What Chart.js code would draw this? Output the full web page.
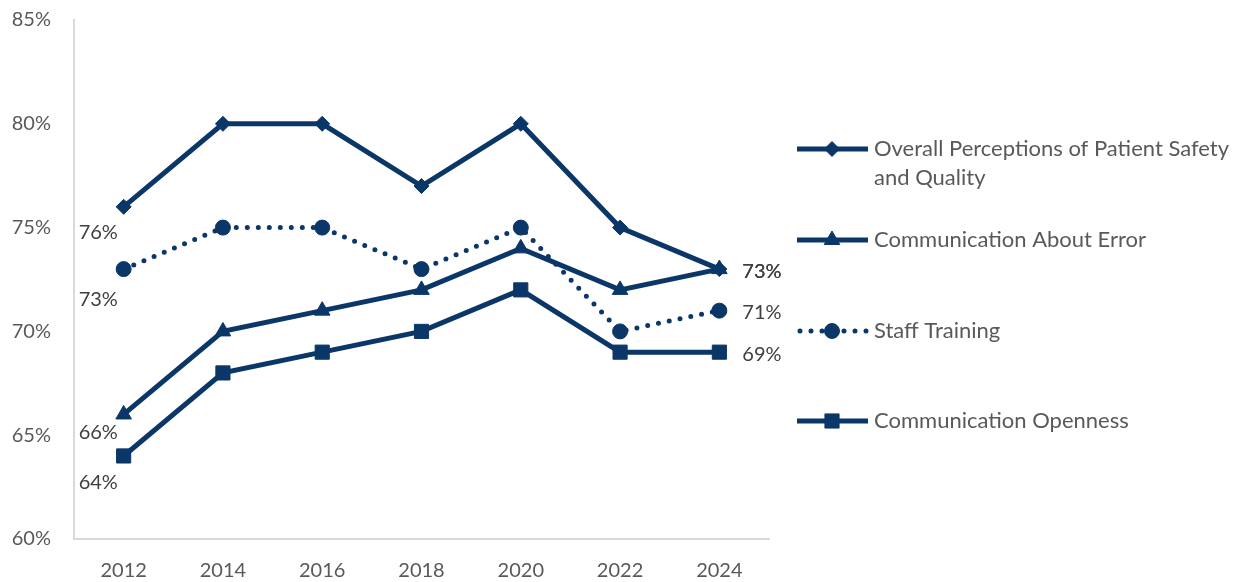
<!DOCTYPE html>
<html>
<head>
<meta charset="utf-8">
<script src="https://cdn.jsdelivr.net/npm/chart.js@4/dist/chart.umd.min.js"></script>
<style>
  html, body { margin: 0; padding: 0; background: #fff; }
  #wrap { width: 1244px; height: 582px; }
</style>
</head>
<body>
<div id="wrap"><canvas id="lineChart"></canvas></div>
<script>
const years = ['2012', '2014', '2016', '2018', '2020', '2022', '2024'];
const overallSafety = [76, 80, 80, 77, 80, 75, 73];
const commAboutError = [66, 70, 71, 72, 74, 72, 73];
const staffTraining = [73, 75, 75, 73, 75, 70, 71];
const commOpenness = [64, 68, 69, 70, 72, 69, 69];
const yTicks = [60, 65, 70, 75, 80, 85];

const navy = '#0b3768';
const textColor = '#595959';
const labelColor = '#404040';
const axisColor = '#d9d9d9';
const fontFamily = 'Lato, "Open Sans", sans-serif';

// legend text lines per dataset
const legendLines = [
    ['Overall Perceptions of Patient Safety', 'and Quality'],
    ['Communication About Error'],
    ['Staff Training'],
    ['Communication Openness']
];

// first/last point labels
const pointLabels = {
    id: 'pointLabels',
    afterDatasetsDraw(chart) {
        const ctx = chart.ctx;
        ctx.save();
        ctx.font = '20px ' + fontFamily;
        ctx.fillStyle = labelColor;
        ctx.textBaseline = 'middle';
        const firstDy = [26, 18, 30, 27];
        chart.data.datasets.forEach(function (ds, i) {
            const pts = chart.getDatasetMeta(i).data;
            const first = pts[0];
            const last = pts[pts.length - 1];
            ctx.textAlign = 'left';
            ctx.fillText(ds.data[0] + '%', first.x - 45, first.y + firstDy[i]);
            ctx.fillText(ds.data[ds.data.length - 1] + '%', last.x + 23, last.y + 2);
        });
        ctx.restore();
    }
};

// legend drawn on the right
const sideLegend = {
    id: 'sideLegend',
    afterDraw(chart) {
        const ctx = chart.ctx;
        const rows = [149, 240, 331, 421];
        ctx.save();
        ctx.font = '22px ' + fontFamily;
        ctx.textBaseline = 'middle';
        chart.data.datasets.forEach(function (ds, i) {
            const y = rows[i];
            ctx.save();
            ctx.strokeStyle = ds.borderColor;
            ctx.lineWidth = ds.borderWidth;
            ctx.lineCap = ds.borderCapStyle || 'butt';
            ctx.setLineDash(ds.borderDash || []);
            ctx.beginPath();
            ctx.moveTo(ds.borderDash ? 800 : 797, y);
            ctx.lineTo(868, y);
            ctx.stroke();
            ctx.restore();
            ctx.save();
            ctx.fillStyle = navy;
            ctx.strokeStyle = navy;
            ctx.lineWidth = 1;
            Chart.helpers.drawPoint(ctx, {
                pointStyle: ds.pointStyle,
                radius: ds.pointRadius,
                borderWidth: 1,
                rotation: 0
            }, 832, y);
            ctx.restore();
            ctx.fillStyle = textColor;
            ctx.textAlign = 'left';
            legendLines[i].forEach(function (line, k) {
                ctx.fillText(line, 874, y + k * 29);
            });
        });
        ctx.restore();
    }
};

function series(label, data, style, radius, dashed) {
    const ds = {
        label: label,
        data: data,
        borderColor: navy,
        backgroundColor: navy,
        borderWidth: 5,
        pointStyle: style,
        pointRadius: radius,
        pointHoverRadius: radius,
        pointBackgroundColor: navy,
        pointBorderColor: navy,
        pointBorderWidth: 1,
        tension: 0
    };
    if (dashed) {
        ds.borderDash = [0, 11];
        ds.borderCapStyle = 'round';
    }
    return ds;
}

const lineChart = document.getElementById('lineChart');
const chart = new Chart(lineChart, {
    type: 'line',
    data: {
        labels: years,
        datasets: [
            series('Overall Perceptions of Patient Safety and Quality', overallSafety, 'rectRot', 7.5, false),
            series('Communication About Error', commAboutError, 'triangle', 9, false),
            series('Staff Training', staffTraining, 'circle', 7.5, true),
            series('Communication Openness', commOpenness, 'rect', 10, false)
        ]
    },
    options: {
        responsive: true,
        maintainAspectRatio: false,
        animation: false,
        layout: {
            padding: { left: 0, right: 475, top: 20, bottom: 0 }
        },
        plugins: {
            legend: { display: false },
            tooltip: { enabled: false }
        },
        scales: {
            x: {
                offset: true,
                grid: { display: false, drawTicks: false },
                border: { display: true, color: axisColor, width: 2 },
                ticks: {
                    color: textColor,
                    padding: 20,
                    font: { family: fontFamily, size: 20 }
                },
                afterFit(scale) { scale.height = 43; }
            },
            y: {
                min: yTicks[0],
                max: yTicks[yTicks.length - 1],
                afterBuildTicks(scale) {
                    scale.ticks = yTicks.map(function (v) { return { value: v }; });
                },
                grid: {
                    display: true,
                    color: 'transparent',
                    drawOnChartArea: false,
                    drawTicks: true,
                    tickLength: 23
                },
                border: { display: true, color: axisColor, width: 2 },
                ticks: {
                    color: textColor,
                    padding: 0,
                    font: { family: fontFamily, size: 20 },
                    callback: function (v) { return v + '%'; }
                },
                afterFit(scale) { scale.width = 74; }
            }
        }
    },
    plugins: [pointLabels, sideLegend]
});
</script>
</body>
</html>
